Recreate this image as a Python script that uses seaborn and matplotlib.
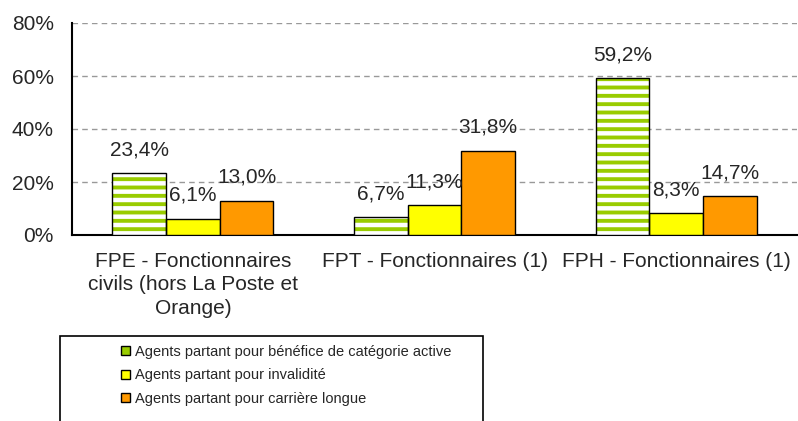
import numpy as np
import pandas as pd
import matplotlib
matplotlib.use('Agg')
import matplotlib.pyplot as plt
import seaborn as sns
from matplotlib.patches import Patch, Rectangle

# données
categories = ['FPE - Fonctionnaires\ncivils (hors La Poste et\nOrange)',
              'FPT - Fonctionnaires (1)',
              'FPH - Fonctionnaires (1)']
series = ['Agents partant pour bénéfice de catégorie active',
          'Agents partant pour invalidité',
          'Agents partant pour carrière longue']
active = [23.4, 6.7, 59.2]
invalidite = [6.1, 11.3, 8.3]
carriere = [13.0, 31.8, 14.7]
colors = ['#99CC00', '#FFFF00', '#FF9900']
yticks = [0, 20, 40, 60, 80]


def build_frame():
    """tableau long pour seaborn"""
    return pd.DataFrame({
        'categorie': categories * 3,
        'serie': np.repeat(series, len(categories)),
        'valeur': active + invalidite + carriere,
    })


def main():
    sns.set_style('white')
    plt.rcParams['font.family'] = ['Liberation Sans', 'DejaVu Sans']
    plt.rcParams['hatch.linewidth'] = 2.8

    df = build_frame()

    fig = plt.figure(figsize=(7.98, 4.21), dpi=100)
    ax = fig.add_axes([72 / 798, 1 - 235 / 421, 725 / 798, 212 / 421])

    sns.barplot(data=df, x='categorie', y='valeur', hue='serie',
                order=categories, hue_order=series, palette=colors,
                width=0.667, saturation=1, edgecolor='black', linewidth=1,
                legend=False, ax=ax, zorder=3)

    # barres vertes hachurées
    for bar in ax.containers[0]:
        bar.set_facecolor('white')
        bar.set_edgecolor(colors[0])
        bar.set_hatch('--')
        bar.set_linewidth(0)
        ax.add_patch(Rectangle((bar.get_x(), bar.get_y()), bar.get_width(),
                               bar.get_height(), fill=False, edgecolor='black',
                               lw=1, zorder=4))

    # étiquettes
    for cont in ax.containers:
        labels = [f"{v:.1f}%".replace('.', ',') for v in cont.datavalues]
        ax.bar_label(cont, labels=labels, padding=10, fontsize=15, zorder=5)

    ax.set_xlim(-0.5, 2.5)
    ax.set_ylim(0, 80)
    ax.set_xlabel('')
    ax.set_ylabel('')

    ax.set_xticks([-0.5, 0.5, 1.5, 2.5])
    ax.set_xticklabels([])
    ax.set_xticks([0, 1, 2], minor=True)
    ax.set_xticklabels(categories, minor=True, fontsize=15, linespacing=1.3)
    ax.tick_params(axis='x', which='minor', length=0, pad=12)
    ax.tick_params(axis='x', which='major', length=6, width=1.5,
                   direction='out', color='black')

    ax.set_yticks(yticks)
    ax.set_yticklabels([f"{t}%" for t in yticks], fontsize=15)
    ax.tick_params(axis='y', length=6, width=1.5, direction='out',
                   color='black', pad=7)

    ax.set_axisbelow(True)
    ax.yaxis.grid(True, linestyle=(0, (4, 3)), color='#999999', linewidth=1)
    ax.xaxis.grid(False)

    for side in ['top', 'right']:
        ax.spines[side].set_visible(False)
    for side in ['left', 'bottom']:
        ax.spines[side].set_color('black')
        ax.spines[side].set_linewidth(1.5)

    # légende
    handles = [Patch(facecolor=c, edgecolor='black', lw=1) for c in colors]
    fig.legend(handles, series, loc='upper left',
               bbox_to_anchor=(121 / 798, 1 - 345 / 421), frameon=False,
               fontsize=10.5, handlelength=0.6, handleheight=0.6,
               handletextpad=0.35, labelspacing=0.65, borderpad=0,
               borderaxespad=0)
    fig.patches.append(Rectangle((60 / 798, -0.1), 423 / 798,
                                 0.1 + 1 - 336 / 421,
                                 transform=fig.transFigure, fill=False,
                                 edgecolor='black', lw=1.2))

    fig.savefig('out.png', dpi=100)


if __name__ == "__main__":
    main()
